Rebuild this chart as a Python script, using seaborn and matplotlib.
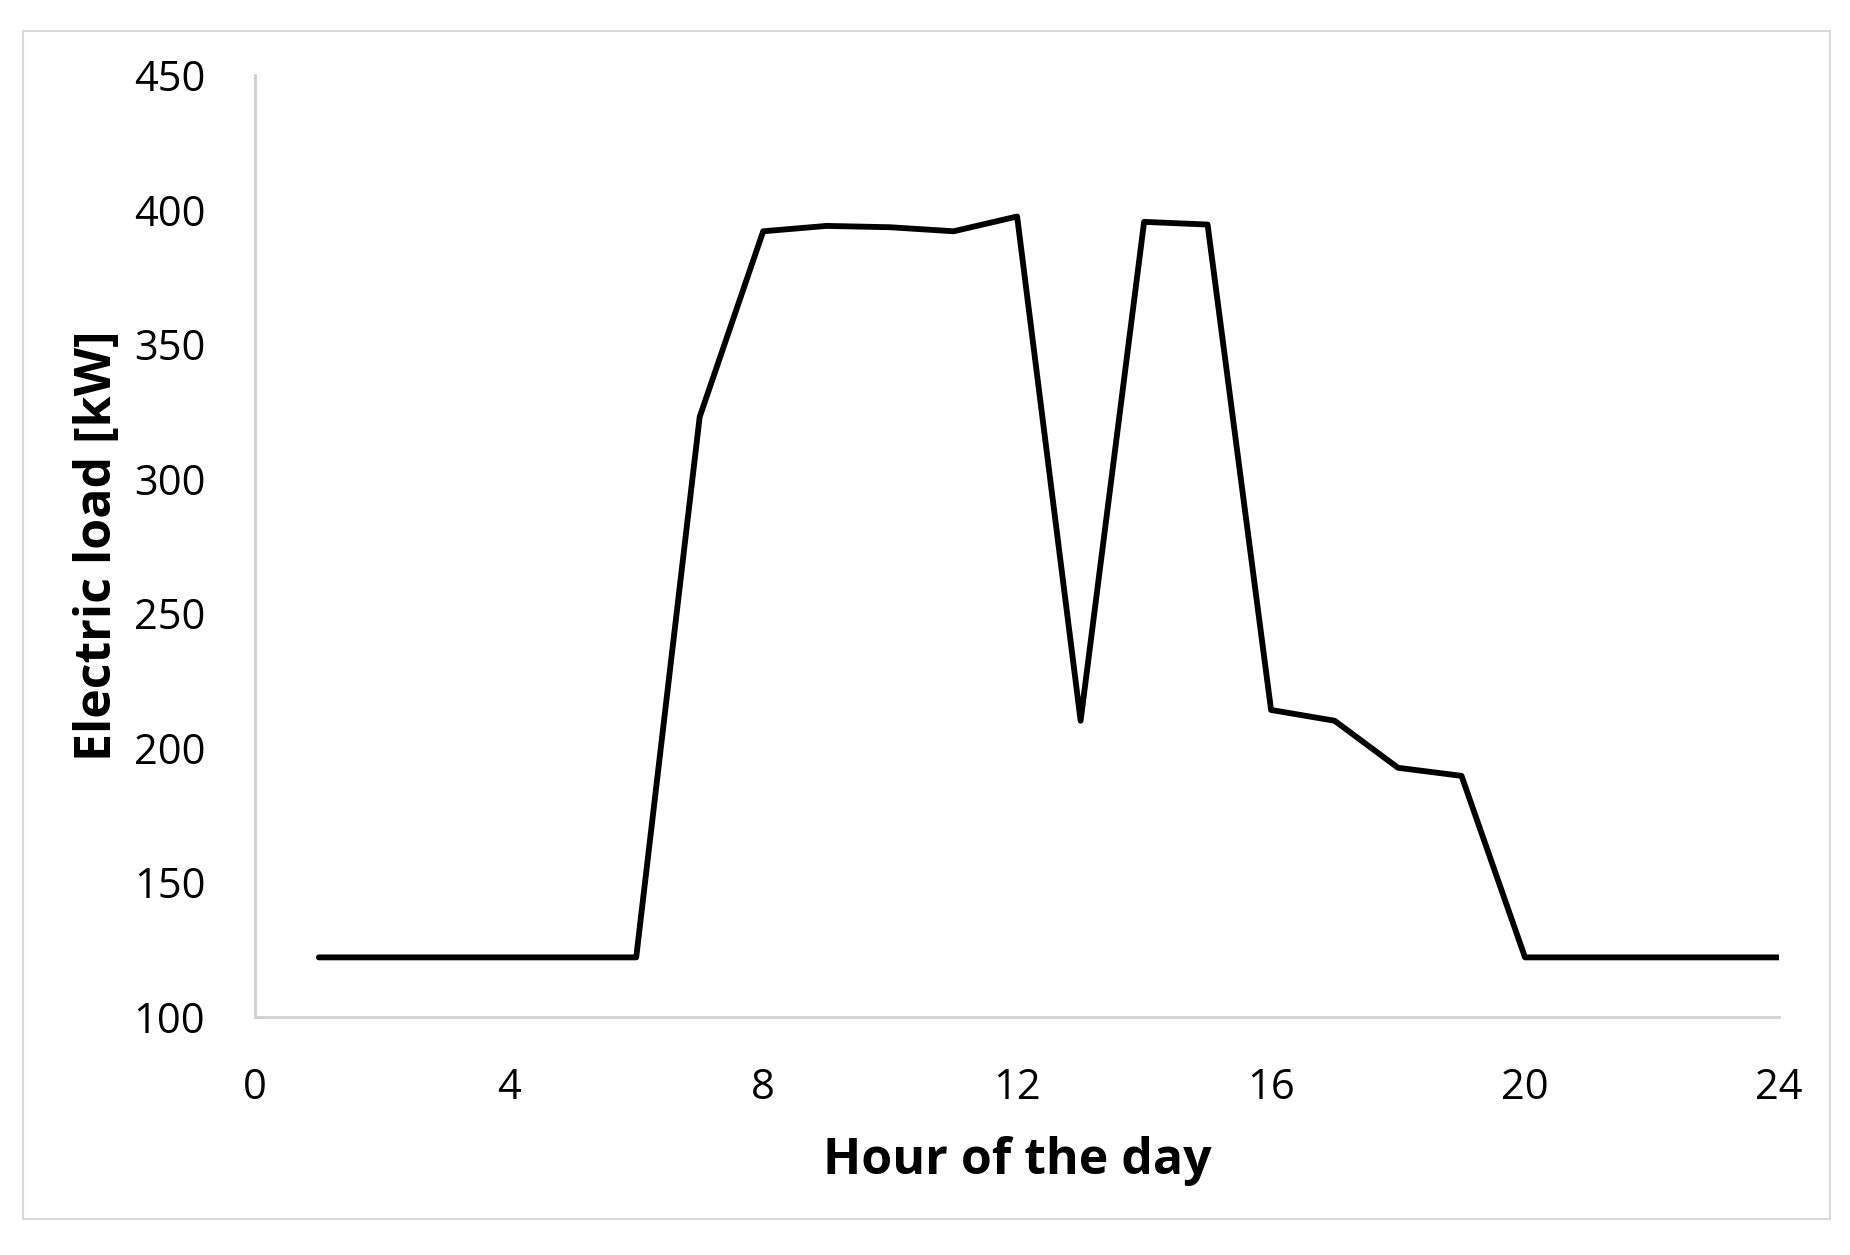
import numpy as np
import pandas as pd
import seaborn as sns
import matplotlib.pyplot as plt
from matplotlib.patches import Rectangle

hours = [1, 2, 3, 4, 5, 6, 7, 8, 9, 10, 11, 12,
         13, 14, 15, 16, 17, 18, 19, 20, 21, 22, 23, 24]
load_kw = [122, 122, 122, 122, 122, 122, 323, 392, 394, 393.5, 392, 397.5,
           210, 395.5, 394.5, 214, 210, 192.5, 189.5, 122, 122, 122, 122, 122]

x_ticks = [0, 4, 8, 12, 16, 20, 24]
y_ticks = [100, 150, 200, 250, 300, 350, 400, 450]

df = pd.DataFrame({'hour': hours, 'load': load_kw})

sns.set_style("white")
plt.rcParams['font.family'] = ['Open Sans', 'DejaVu Sans']

fig = plt.figure(figsize=(18.5, 12.55), dpi=100)
ax = fig.add_axes([0.138, 0.19, 0.8236, 0.75])

sns.lineplot(data=df, x='hour', y='load', ax=ax, color='black', linewidth=4.2)

ax.set_xlim(0, 24)
ax.set_ylim(100, 450)
ax.set_xticks(x_ticks)
ax.set_yticks(y_ticks)
ax.tick_params(axis='both', length=0, labelsize=30, colors='black')
ax.tick_params(axis='y', pad=36)
ax.tick_params(axis='x', pad=36)

for side in ['top', 'right']:
    ax.spines[side].set_visible(False)
for side in ['left', 'bottom']:
    ax.spines[side].set_color('#d0d0d0')
    ax.spines[side].set_linewidth(2)

ax.set_xlabel('Hour of the day', fontsize=36, fontweight='bold', labelpad=20, color='black')
ax.set_ylabel('Electric load [kW]', fontsize=36, fontweight='bold', labelpad=8, color='black')

# light grey frame round the whole chart
fig.patches.append(Rectangle((0.0124, 0.0287), 0.977, 0.9466, transform=fig.transFigure,
                             fill=False, edgecolor='#d9d9d9', linewidth=1.5))

fig.savefig('out.png', dpi=100)
